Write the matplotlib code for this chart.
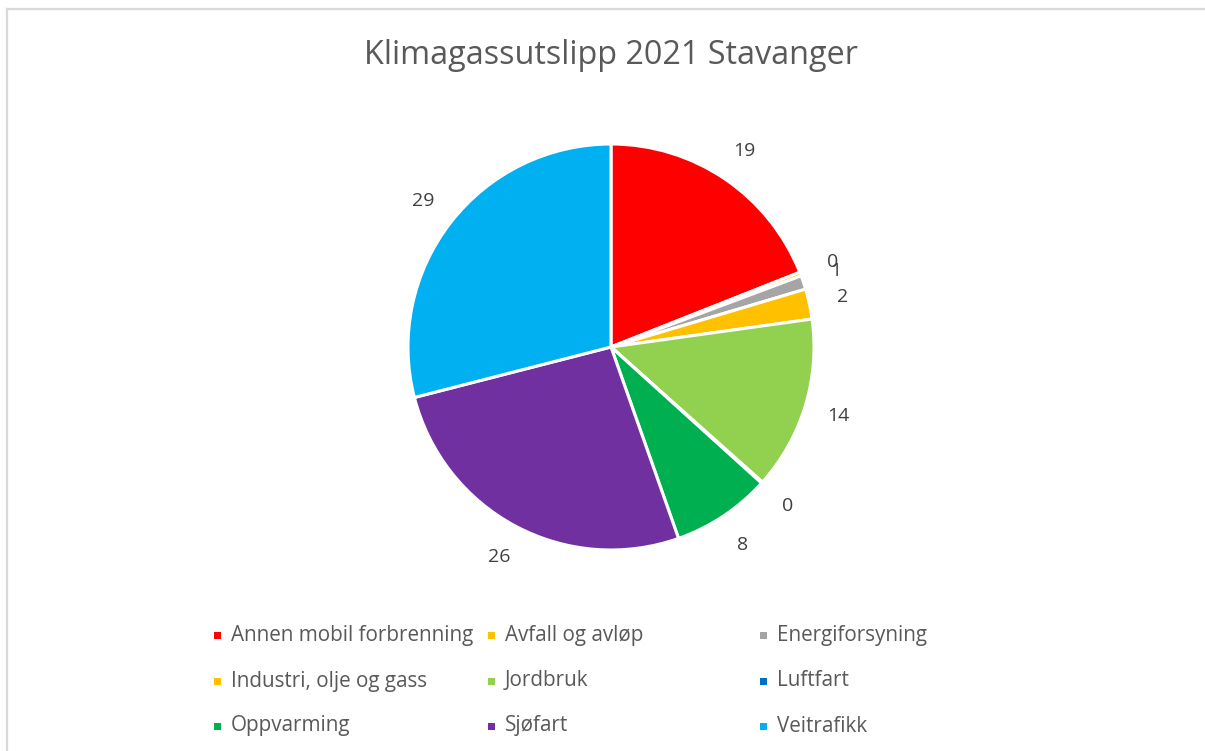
import numpy as np
import matplotlib.pyplot as plt
from matplotlib.patches import Rectangle
from matplotlib.lines import Line2D

plt.rcParams['font.family'] = ['Open Sans', 'DejaVu Sans']

categories = ['Annen mobil forbrenning', 'Avfall og avløp', 'Energiforsyning',
              'Industri, olje og gass', 'Jordbruk', 'Luftfart',
              'Oppvarming', 'Sjøfart', 'Veitrafikk']
values = [19.0, 0.3, 1.1, 2.4, 13.8, 0.1, 7.9, 26.4, 29.0]
colors = ['#FF0000', '#FFC000', '#A5A5A5', '#FFC000', '#92D050', '#0070C0',
          '#00B050', '#7030A0', '#00B0F0']
labels = [str(int(round(v))) for v in values]

W, H = 1205, 751
fig = plt.figure(figsize=(W / 100, H / 100), dpi=100)

# chart frame (left and top edges only visible)
fig.add_artist(Line2D([7.5 / W, 7.5 / W], [0, 1 - 9 / H], color='#D9D9D9', lw=1.6))
fig.add_artist(Line2D([7.5 / W, 1], [1 - 9 / H, 1 - 9 / H], color='#D9D9D9', lw=1.6))

# pie axes: center (611, 347), radius ~203 px
cx, cy, r = 611, 347, 203
ax = fig.add_axes([(cx - r) / W, 1 - (cy + r) / H, 2 * r / W, 2 * r / H])
wedges, texts = ax.pie(values, colors=colors, labels=labels, startangle=90,
                       counterclock=False, labeldistance=1.17,
                       wedgeprops=dict(edgecolor='white', linewidth=2.2),
                       textprops=dict(fontsize=14, color='#404040'))
for t in texts:
    t.set_ha('center')
    t.set_va('center')
ax.set_xlim(-1, 1)
ax.set_ylim(-1, 1)
ax.set_aspect('equal')

fig.text(611 / W, 1 - 56 / H, 'Klimagassutslipp 2021 Stavanger', ha='center',
         va='center', fontsize=23.3, color='#595959')

# legend laid out as a 3x3 grid
col_x = [217, 491, 763]
row_y = [635, 681, 726]
for i, (name, c) in enumerate(zip(categories, colors)):
    x = col_x[i % 3]
    y = row_y[i // 3]
    fig.add_artist(Rectangle((x / W - 3.5 / W, 1 - (y + 3.5) / H), 7 / W, 7 / H,
                             facecolor=c, edgecolor='none', transform=fig.transFigure))
    fig.text((x + 14) / W, 1 - y / H, name, ha='left', va='center',
             fontsize=14.9, color='#595959')

fig.savefig('out.png', dpi=100)
